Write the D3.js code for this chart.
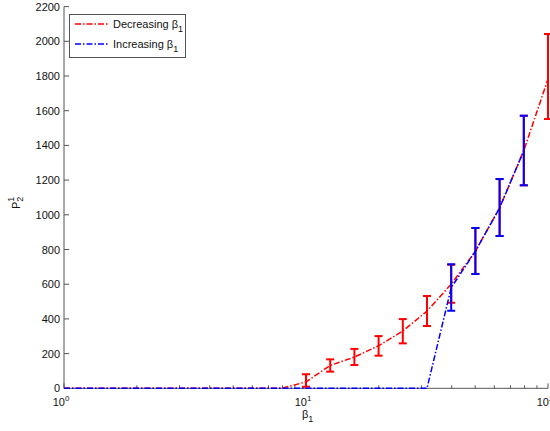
<!DOCTYPE html>
<html>
<head>
<meta charset="utf-8">
<script src="https://cdn.jsdelivr.net/npm/d3@7"></script>
<style>
body { margin: 0; background: #fff; }
text { font-family: "Liberation Sans", Arial, sans-serif; }
</style>
</head>
<body>
<div id="chart"></div>
<script>
const w = 550;
const h = 431;
const margin = {left: 64, right: 2, top: 6.6, bottom: 42.7};

// data
const beta = [1, 1.26, 1.58, 2, 2.51, 3.16, 3.98, 5.01, 6.31, 7.94, 10, 12.59, 15.85, 19.95, 25.12, 31.62, 39.81, 50.12, 63.1, 79.43, 100];
const decMean = [0, 0, 0, 0, 0, 0, 0, 0, 0, 0, 37, 132, 180, 245, 330, 445, 600, 790, 1040, 1370, 1783];
const decLow  = [null, null, null, null, null, null, null, null, null, null, 9, 96, 134, 188, 259, 359, 493, 659, 878, 1170, 1552];
const decHigh = [null, null, null, null, null, null, null, null, null, null, 81, 167, 227, 301, 399, 532, 712, 924, 1206, 1571, 2042];
const incMean = [0, 0, 0, 0, 0, 0, 0, 0, 0, 0, 0, 0, 0, 0, 0, 0, 580, 790, 1040, 1370];
const incLow  = [null, null, null, null, null, null, null, null, null, null, null, null, null, null, null, null, 447, 659, 878, 1170];
const incHigh = [null, null, null, null, null, null, null, null, null, null, null, null, null, null, null, null, 715, 924, 1206, 1571];
const yTicks = [0, 200, 400, 600, 800, 1000, 1200, 1400, 1600, 1800, 2000, 2200];
const xTicks = [1, 10, 100];
const legendNames = ['Decreasing β', 'Increasing β'];
const colors = ['#ff0000', '#0000ff'];

const svg = d3.select('#chart').append('svg').attr('width', w).attr('height', h);

const x = d3.scaleLog().domain([1, 100]).range([margin.left, w - margin.right]);
const y = d3.scaleLinear().domain([0, 2200]).range([h - margin.bottom, margin.top]);

const axisColor = '#555';
const bottom = y(0);

// axes lines
svg.append('line').attr('x1', x(1)).attr('x2', x(100)).attr('y1', bottom).attr('y2', bottom)
  .attr('stroke', axisColor).attr('stroke-width', 1);
svg.append('line').attr('x1', x(1)).attr('x2', x(1)).attr('y1', y(2200)).attr('y2', bottom)
  .attr('stroke', axisColor).attr('stroke-width', 1);

// y ticks (inside)
svg.selectAll('.ytick').data(yTicks).enter().append('line')
  .attr('x1', x(1)).attr('x2', x(1) + 5)
  .attr('y1', d => y(d)).attr('y2', d => y(d))
  .attr('stroke', axisColor);
svg.selectAll('.ylab').data(yTicks).enter().append('text')
  .attr('x', x(1) - 4).attr('y', d => y(d) + 4)
  .attr('text-anchor', 'end').attr('font-size', 11).attr('fill', '#111')
  .text(d => d);

// x ticks, major + minor (log)
const minor = [];
[1, 10].forEach(base => { for (let k = 2; k <= 9; k++) minor.push(base * k); });
svg.selectAll('.xminor').data(minor).enter().append('line')
  .attr('x1', d => x(d)).attr('x2', d => x(d))
  .attr('y1', bottom).attr('y2', bottom - 3)
  .attr('stroke', axisColor);
svg.selectAll('.xmajor').data(xTicks).enter().append('line')
  .attr('x1', d => x(d)).attr('x2', d => x(d))
  .attr('y1', bottom).attr('y2', bottom - 5)
  .attr('stroke', axisColor);
const xl = svg.selectAll('.xlab').data(xTicks).enter().append('text')
  .attr('x', d => x(d) - 3).attr('y', bottom + 18)
  .attr('text-anchor', 'middle').attr('font-size', 11).attr('fill', '#111');
xl.append('tspan').text('10');
xl.append('tspan').attr('dy', -5).attr('font-size', 8).text(d => Math.round(Math.log10(d)));

// x label
const xlab = svg.append('text').attr('x', x(10) - 4).attr('y', bottom + 30)
  .attr('font-size', 11).attr('fill', '#111');
xlab.append('tspan').text('β');
xlab.append('tspan').attr('dy', 4).attr('font-size', 9).text('1');

// y label
const ylab = svg.append('text').attr('transform', 'translate(20,209) rotate(-90)')
  .attr('font-size', 11).attr('fill', '#111');
ylab.append('tspan').text('P');
ylab.append('tspan').attr('dy', 3).attr('font-size', 9).text('2');
ylab.append('tspan').attr('dx', -5).attr('dy', -9).attr('font-size', 9).text('1');

const line = d3.line().x(d => x(d[0])).y(d => y(d[1]));
const dash = '6,2,1.5,2';

function drawSeries(mean, low, high, color) {
  const pts = mean.map((m, i) => [beta[i], m]);
  svg.append('path').datum(pts).attr('d', line)
    .attr('fill', 'none').attr('stroke', color).attr('stroke-width', 1.5)
    .attr('stroke-dasharray', dash);
  const bars = mean.map((m, i) => ({x: beta[i], lo: low[i], hi: high[i]})).filter(d => d.lo !== null);
  const g = svg.append('g').attr('stroke', color).attr('stroke-width', 2).attr('fill', 'none');
  g.selectAll('.v').data(bars).enter().append('line')
    .attr('x1', d => x(d.x)).attr('x2', d => x(d.x))
    .attr('y1', d => y(d.lo)).attr('y2', d => y(d.hi));
  g.selectAll('.t').data(bars).enter().append('line')
    .attr('x1', d => x(d.x) - 4).attr('x2', d => x(d.x) + 4)
    .attr('y1', d => y(d.hi)).attr('y2', d => y(d.hi));
  g.selectAll('.b').data(bars).enter().append('line')
    .attr('x1', d => x(d.x) - 4).attr('x2', d => x(d.x) + 4)
    .attr('y1', d => y(d.lo)).attr('y2', d => y(d.lo));
}

drawSeries(decMean, decLow, decHigh, colors[0]);
drawSeries(incMean, incLow, incHigh, colors[1]);

// legend
const lg = svg.append('g');
lg.append('rect').attr('x', 69.5).attr('y', 14.5).attr('width', 116).attr('height', 43)
  .attr('fill', '#fff').attr('stroke', axisColor);
legendNames.forEach((name, i) => {
  const ly = 24 + i * 20;
  lg.append('line').attr('x1', 75).attr('x2', 109).attr('y1', ly).attr('y2', ly)
    .attr('stroke', colors[i]).attr('stroke-width', 1.5).attr('stroke-dasharray', dash);
  const t = lg.append('text').attr('x', 113).attr('y', ly + 4).attr('font-size', 11).attr('fill', '#111');
  t.append('tspan').text(name);
  t.append('tspan').attr('dy', 4).attr('font-size', 9).text('1');
});
</script>
</body>
</html>
